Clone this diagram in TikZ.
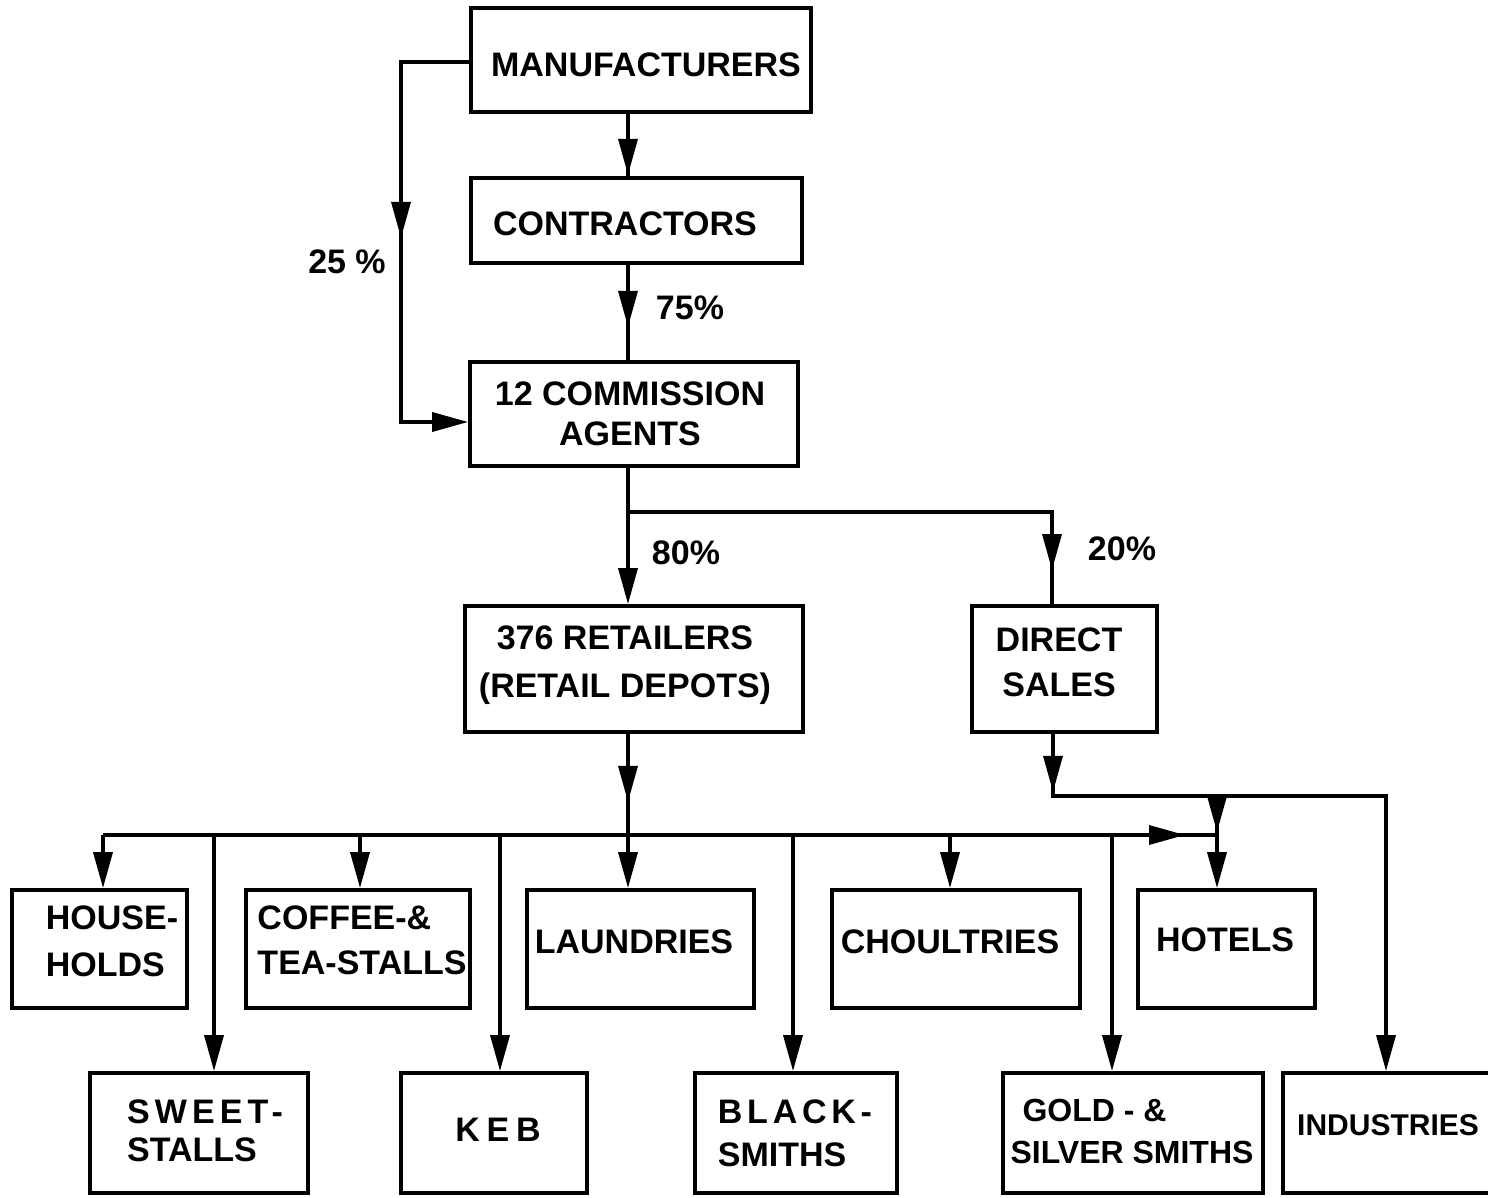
\documentclass[tikz,border=0pt]{standalone}
\usepackage{fontspec}
\setmainfont{Liberation Sans}
\usetikzlibrary{arrows.meta,decorations.markings}
\begin{document}
\begin{tikzpicture}[x=1pt,y=-1pt,
  >={Triangle[length=36pt,width=19pt]},
  box/.style={draw, line width=3.8pt, inner sep=0pt},
  lbl/.style={font=\bfseries\fontsize{34}{44}\selectfont, inner sep=0pt, align=center},
  ln/.style={line width=3.5pt},
  midtip/.style={postaction={decorate,decoration={markings,mark=at position #1 with {\arrow{>}}}}}
]
\fill[white] (0,0) rectangle (1488,1198);
\useasboundingbox (0,0) rectangle (1488,1198);
\clip (0,0) rectangle (1488,1198);

% boxes
\node[box, minimum width=340pt, minimum height=104pt] (man) at (641,60) {};
\node[box, minimum width=331pt, minimum height=85pt] (con) at (636.5,220.5) {};
\node[box, minimum width=328pt, minimum height=104pt] (agt) at (634,414) {};
\node[box, minimum width=338pt, minimum height=126pt] (ret) at (634,669) {};
\node[box, minimum width=185pt, minimum height=126pt] (dir) at (1064.5,669) {};
\node[box, minimum width=175pt, minimum height=118pt] (hh) at (99.5,949) {};
\node[box, minimum width=224pt, minimum height=118pt] (cof) at (358,949) {};
\node[box, minimum width=227pt, minimum height=118pt] (lau) at (640.5,949) {};
\node[box, minimum width=248pt, minimum height=118pt] (cho) at (956,949) {};
\node[box, minimum width=177pt, minimum height=118pt] (hot) at (1226.5,949) {};
\node[box, minimum width=218pt, minimum height=120pt] (swe) at (199,1133) {};
\node[box, minimum width=186pt, minimum height=120pt] (keb) at (494,1133) {};
\node[box, minimum width=202pt, minimum height=120pt] (bla) at (796,1133) {};
\node[box, minimum width=260pt, minimum height=120pt] (gol) at (1133,1133) {};
\node[box, minimum width=227pt, minimum height=120pt] (ind) at (1396.5,1133) {};

% texts
\node[lbl] (tman) at (646,65) {MANUFACTURERS};
\node[lbl] (tcon) at (625,224) {CONTRACTORS};
\node[lbl, font=\bfseries\fontsize{34}{40}\selectfont] (tagt) at (630,414) {12 COMMISSION\\AGENTS};
\node[lbl, font=\bfseries\fontsize{34}{48}\selectfont] (tret) at (625,665) {376 RETAILERS\\(RETAIL DEPOTS)};
\node[lbl, font=\bfseries\fontsize{34}{45}\selectfont] (tdir) at (1059,662) {DIRECT\\SALES};
\node[lbl, align=left, font=\bfseries\fontsize{34}{47}\selectfont] (thh) at (112,941) {HOUSE-\\HOLDS};
\node[lbl, align=left, font=\bfseries\fontsize{34}{45}\selectfont] (tcof) at (362,940) {COFFEE-\&\\TEA-STALLS};
\node[lbl] (tlau) at (634,942) {LAUNDRIES};
\node[lbl] (tcho) at (950,942) {CHOULTRIES};
\node[lbl] (thot) at (1225,940) {HOTELS};
\node[lbl, align=left, font=\bfseries\fontsize{34}{38}\selectfont] (tswe) at (205,1131) {{\addfontfeatures{LetterSpace=15}SWEET-}\\STALLS};
\node[lbl, font=\bfseries\fontsize{34}{44}\selectfont\addfontfeatures{LetterSpace=20}] (tkeb) at (498,1130) {KEB};
\node[lbl, align=left, font=\bfseries\fontsize{34}{43}\selectfont] (tbla) at (795,1133) {{\addfontfeatures{LetterSpace=14}BLACK-}\\SMITHS};
\node[lbl, align=left, font=\bfseries\fontsize{32}{42}\selectfont] (tgol) at (1132,1131) {\hspace{12pt}GOLD - \&\\SILVER SMITHS};
\node[lbl, anchor=west, font=\bfseries\fontsize{30}{40}\selectfont] (tind) at (1297,1125) {INDUSTRIES};

% percentages
\node[lbl] (p25) at (347,262) {25 \%};
\node[lbl] (p75) at (690,308) {75\%};
\node[lbl] (p80) at (686,553) {80\%};
\node[lbl] (p20) at (1122,549) {20\%};

% junction coordinates
\coordinate (m) at (628,0);
\coordinate (l1) at (401,62);
\coordinate (l2) at (401,422);
\coordinate (j) at (628,512);
\coordinate (j2) at (1052,512);
\coordinate (k) at (1053,796);
\coordinate (k2) at (1386,796);
\coordinate (h) at (1217,796);
\coordinate (b1) at (103,835);
\coordinate (b2) at (214,835);
\coordinate (b3) at (360,835);
\coordinate (b4) at (500,835);
\coordinate (b5) at (628,835);
\coordinate (b6) at (793,835);
\coordinate (b7) at (950,835);
\coordinate (b8) at (1112,835);
\coordinate (b9) at (1217,835);

% connectors
\draw[ln, midtip=61pt] (man.south -| m) -- (con.north -| m);
\draw[ln, midtip=62pt] (con.south -| m) -- (agt.north -| m);
\draw[ln, midtip=244pt, ->] (man.west |- l1) -- (l1) -- (l2) -- (agt.west |- l2);
\draw[ln, ->] (agt.south -| j) -- (ret.north -| j);
\draw[ln, midtip=482pt] (j) -- (j2) -- (dir.north -| j2);
\draw[ln, midtip=68pt, ->] (ret.south -| b5) -- (lau.north -| b5);
\draw[ln, midtip=1082pt] (b1) -- (b9);
\draw[ln, midtip=58pt, ->] (dir.south -| k) -- (k) -- (k2) -- (ind.north -| k2);
\draw[ln, midtip=36pt, ->] (h) -- (b9) -- (hot.north -| b9);
\draw[ln, ->] (b1) -- (hh.north -| b1);
\draw[ln, ->] (b2) -- (swe.north -| b2);
\draw[ln, ->] (b3) -- (cof.north -| b3);
\draw[ln, ->] (b4) -- (keb.north -| b4);
\draw[ln, ->] (b6) -- (bla.north -| b6);
\draw[ln, ->] (b7) -- (cho.north -| b7);
\draw[ln, ->] (b8) -- (gol.north -| b8);
\end{tikzpicture}
\end{document}
